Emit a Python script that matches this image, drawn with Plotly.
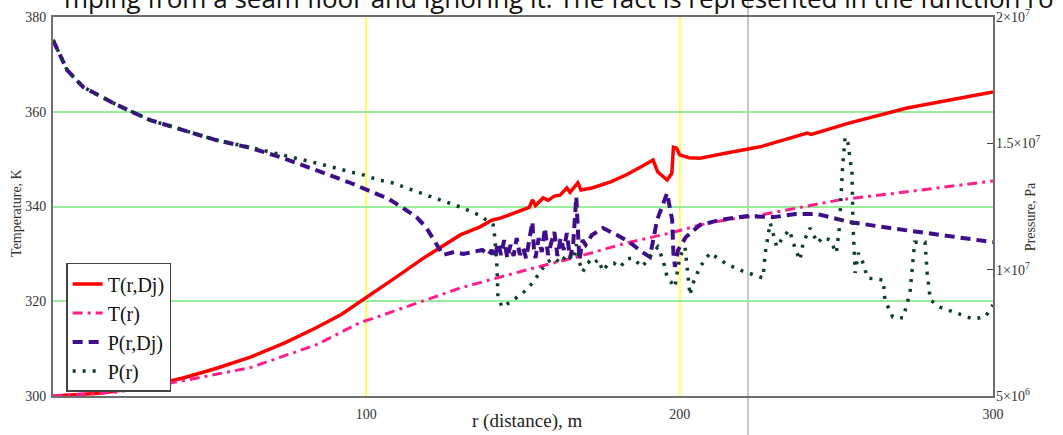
import plotly.graph_objects as go

# ---- data ----
r_T_Dj = [0, 15, 30, 41.5, 52, 63, 74, 84, 92, 99, 110, 118, 122.5, 130, 136.3, 140, 143, 146.8,
          150, 152, 153, 154, 156.4, 158, 160, 161.8, 164, 165, 166.5, 167.5, 168.5, 172, 178, 183,
          188, 191.5, 193, 196, 197.5, 198, 199, 200, 203, 206.5, 215, 225.7, 233, 240.7, 242,
          254, 272.6, 287, 300]
T_Dj = [300, 300.6, 302, 303.8, 305.8, 308.2, 311.2, 314.4, 317.2, 320.3, 325.3, 329, 330.8, 334,
        335.7, 337.1, 337.6, 338.6, 339.4, 339.8, 341.4, 340.2, 341.8, 341.3, 342.2, 342.4, 343.9,
        343, 344.2, 345, 343.5, 343.9, 345.2, 346.7, 348.5, 349.8, 347.3, 345.6, 347, 352.5, 352.3,
        350.9, 350.3, 350.2, 351.3, 352.6, 354, 355.5, 355.2, 357.6, 360.8, 362.5, 364.2]

r_T = [0, 20, 41.5, 63, 84, 98, 104, 130, 151, 167, 183, 197, 206.5, 215, 225.7, 251, 272.6, 300]
T_r = [300, 300.8, 303.2, 306, 310.8, 315.5, 316.8, 322.8, 326.6, 329.3, 332.3, 334.4, 336.1,
       337.2, 338.2, 341.4, 343.1, 345.4]

r_P_Dj = [0, 4.5, 9.6, 20.4, 31, 41.5, 52, 63, 73.4, 84, 95, 104, 106.6, 111.7, 116, 119, 122,
          124.5, 128, 131, 134, 137, 139, 140, 141, 142, 143, 144, 145, 146, 147, 148, 149, 150,
          151, 152, 153, 153.5, 154, 155, 156, 157, 158, 159, 160, 161, 162, 163, 164, 165, 166,
          167, 167.5, 168, 169, 170, 172, 175.5, 180, 184, 188, 190.5, 192.8, 196, 197.6, 198,
          198.5, 199.5, 202, 206.5, 213, 221.5, 230, 237, 244, 254, 267, 279, 300]
P_Dj = [1.909e7, 1.790e7, 1.723e7, 1.652e7, 1.592e7, 1.553e7, 1.513e7, 1.482e7, 1.442e7, 1.394e7,
        1.343e7, 1.296e7, 1.284e7, 1.244e7, 1.208e7, 1.169e7, 1.106e7, 1.058e7, 1.070e7, 1.062e7,
        1.070e7, 1.078e7, 1.058e7, 1.078e7, 1.046e7, 1.106e7, 1.058e7, 1.117e7, 1.046e7, 1.098e7,
        1.054e7, 1.125e7, 1.058e7, 1.086e7, 1.046e7, 1.117e7, 1.189e7, 1.078e7, 1.046e7, 1.125e7,
        1.070e7, 1.165e7, 1.058e7, 1.106e7, 1.149e7, 1.054e7, 1.125e7, 1.078e7, 1.145e7, 1.046e7,
        1.098e7, 1.288e7, 1.157e7, 1.038e7, 1.117e7, 1.098e7, 1.137e7, 1.165e7, 1.137e7, 1.109e7,
        1.070e7, 1.050e7, 1.197e7, 1.303e7, 1.197e7, 1.066e7, 1.011e7, 1.078e7, 1.129e7, 1.177e7,
        1.197e7, 1.212e7, 1.208e7, 1.220e7, 1.220e7, 1.189e7, 1.165e7, 1.145e7, 1.109e7]

r_P = [0, 4.5, 9.6, 20.4, 31, 41.5, 52, 63, 73.4, 84, 95, 99, 104, 108.5, 119, 130, 136, 140.5,
       141, 141.7, 142, 143.3, 146, 150, 153, 155.4, 157.7, 160, 162, 164, 166, 167, 168, 169,
       171, 172, 174, 175.5, 177, 179, 181, 183, 185, 188, 190.5, 193, 194.7, 196, 198.5, 200,
       201.7, 203.3, 204, 206.5, 209.7, 215, 220, 223.4, 226.6, 227.3, 228.2, 228.9, 231, 233,
       235, 237, 238.4, 239.4, 241.6, 244, 245.8, 248, 250, 251, 252, 252.8, 253.7, 255, 255.3,
       256, 257, 258.2, 260, 265, 265.5, 268, 271.3, 273.5, 275, 278.3, 279, 280, 283, 288.5,
       293.6, 297.5, 300]
P_r = [1.909e7, 1.790e7, 1.723e7, 1.652e7, 1.592e7, 1.553e7, 1.513e7, 1.484e7, 1.454e7, 1.422e7,
       1.387e7, 1.375e7, 1.355e7, 1.343e7, 1.296e7, 1.248e7, 1.216e7, 1.177e7, 1.129e7, 1.011e7,
       8.92e6, 8.52e6, 8.72e6, 9.08e6, 9.47e6, 9.91e6, 1.030e7, 1.046e7, 1.026e7, 1.062e7,
       1.038e7, 1.100e7, 1.030e7, 9.91e6, 1.030e7, 1.018e7, 1.040e7, 9.95e6, 1.020e7, 1.026e7,
       1.010e7, 1.042e7, 1.046e7, 1.011e7, 1.050e7, 1.090e7, 1.038e7, 9.71e6, 9.31e6, 1.050e7,
       1.090e7, 8.99e6, 9.39e6, 1.011e7, 1.066e7, 1.022e7, 9.95e6, 9.79e6, 9.67e6, 1.066e7,
       1.145e7, 1.185e7, 1.090e7, 1.129e7, 1.157e7, 1.078e7, 1.038e7, 1.106e7, 1.165e7, 1.106e7,
       1.129e7, 1.117e7, 1.066e7, 1.169e7, 1.406e7, 1.525e7, 1.501e7, 1.383e7, 1.185e7, 9.87e6,
       1.066e7, 1.038e7, 9.67e6, 9.59e6, 8.80e6, 8.13e6, 8.09e6, 9.08e6, 1.109e7, 1.109e7,
       9.87e6, 8.80e6, 8.52e6, 8.28e6, 8.05e6, 8.13e6, 8.6e6]

x_ticks = [100, 200, 300]
yT_ticks = [300, 320, 340, 360, 380]
yP_ticks = [5e6, 1e7, 1.5e7, 2e7]
yP_ticktext = ["5×10<sup>6</sup>", "1×10<sup>7</sup>", "1.5×10<sup>7</sup>", "2×10<sup>7</sup>"]
marker_r = 221.8

SERIF = "Liberation Serif"
FRAME = "#6e6e6e"

fig = go.Figure()
fig.add_trace(go.Scatter(x=r_T_Dj, y=T_Dj, mode="lines", name="T(r,Dj)",
                         line=dict(color="#ff0000", width=3.5)))
fig.add_trace(go.Scatter(x=r_T, y=T_r, mode="lines", name="T(r)",
                         line=dict(color="#ff1f8c", width=3, dash="10px,5px,3px,5px")))
fig.add_trace(go.Scatter(x=r_P_Dj, y=P_Dj, mode="lines", name="P(r,Dj)", yaxis="y2",
                         line=dict(color="#3f0d8c", width=4, dash="10px,6px")))
fig.add_trace(go.Scatter(x=r_P, y=P_r, mode="lines", name="P(r)", yaxis="y2",
                         line=dict(color="#0e3d31", width=3.5, dash="3px,7px")))

fig.update_layout(
    width=1063, height=435,
    margin=dict(l=53, r=70, t=17, b=39, autoexpand=False),
    paper_bgcolor="white", plot_bgcolor="white",
    showlegend=True,
    legend=dict(x=0.014, y=0.351, xanchor="left", yanchor="top",
                bgcolor="white", bordercolor="#444444", borderwidth=1.5,
                font=dict(family=SERIF, size=20, color="#111111"),
                tracegroupgap=0, itemwidth=30),
    xaxis=dict(range=[0, 300], tickvals=x_ticks, ticks="", automargin=False,
               showgrid=True, gridcolor="#ffff55", gridwidth=1.5,
               showline=True, mirror=True, linecolor=FRAME, linewidth=2,
               zeroline=False, tickfont=dict(family=SERIF, size=14, color="#333333"),
               ticklabelstandoff=4),
    yaxis=dict(range=[300, 380], tickvals=yT_ticks, ticks="", automargin=False,
               showgrid=True, gridcolor="#99ee99", gridwidth=1.5,
               showline=True, mirror=True, linecolor=FRAME, linewidth=2,
               zeroline=False, tickfont=dict(family=SERIF, size=14, color="#333333"),
               ticklabelstandoff=2),
    yaxis2=dict(range=[5e6, 2e7], overlaying="y", side="right", automargin=False,
                tickvals=yP_ticks, ticktext=yP_ticktext,
                ticks="inside", ticklen=6, tickcolor="#444444",
                showgrid=False, zeroline=False, showline=False,
                tickfont=dict(family=SERIF, size=14, color="#333333"),
                ticklabelstandoff=2),
)

# axis titles placed as annotations
fig.add_annotation(xref="paper", yref="paper", x=-0.0383, y=0.483, textangle=-90,
                   xanchor="center", yanchor="middle",
                   showarrow=False, text="Temperature, K",
                   font=dict(family=SERIF, size=14, color="#333333"))
fig.add_annotation(xref="paper", yref="paper", x=1.0394, y=0.472, textangle=-90,
                   xanchor="center", yanchor="middle",
                   showarrow=False, text="Pressure, Pa",
                   font=dict(family=SERIF, size=14, color="#333333"))
fig.add_annotation(xref="paper", yref="paper", x=0.504, y=-0.066,
                   xanchor="center", yanchor="middle",
                   showarrow=False, text="r (distance), m",
                   font=dict(family=SERIF, size=19, color="#222222"))

# light grey page marker line crossing the whole picture
fig.add_shape(type="line", xref="x", yref="paper", x0=marker_r, x1=marker_r, y0=-0.11, y1=1.05,
              line=dict(color="#c8c8c8", width=2), layer="below")

# cut-off document text above the chart
fig.add_annotation(xref="paper", yref="paper", x=0, y=1, xanchor="left", yanchor="middle",
                   xshift=9, yshift=19, showarrow=False,
                   text="mping from a seam floor and ignoring it. The fact is represented in the function ro",
                   font=dict(family="Open Sans", size=26, color="#111111"))

fig.write_html("out.html", config={"displayModeBar": False},
               post_script="document.body.style.margin='0px';")
